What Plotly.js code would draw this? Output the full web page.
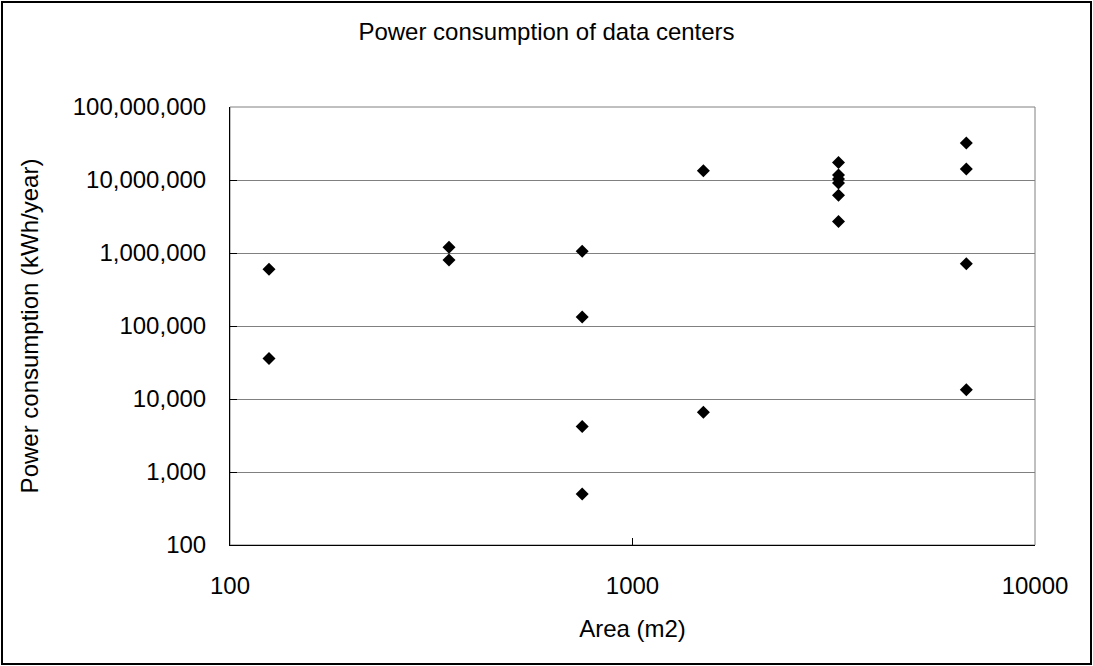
<!DOCTYPE html>
<html>
<head>
<meta charset="utf-8">
<script src="https://cdn.plot.ly/plotly-3.0.1.min.js"></script>
<style>
  html, body { margin: 0; padding: 0; background: #fff; }
  #wrap { position: relative; width: 1093px; height: 666px; }
  #chart { position: absolute; left: 0; top: 0; width: 1093px; height: 666px; }
  #frame { position: absolute; left: 1px; top: 1px; width: 1091px; height: 664px; box-sizing: border-box; border: 2px solid #000; pointer-events: none; }
</style>
</head>
<body>
<div id="wrap"><div id="chart"></div><div id="frame"></div></div>
<script>
// Area (m2) of each data center
const areas = [125, 125, 350, 350, 750, 750, 750, 750, 1500, 1500,
               3250, 3250, 3250, 3250, 3250, 3250, 6750, 6750, 6750, 6750];
// Power consumption (kWh/year)
const power = [600000, 36000, 1200000, 800000, 1060000, 133000, 4200, 500, 13400000, 6600,
               17300000, 11700000, 10300000, 9100000, 6200000, 2700000, 32000000, 14100000, 710000, 13400];

const xTickVals = [100, 1000, 10000];
const xTickText = ['100', '1000', '10000'];
const yTickVals = [100, 1000, 10000, 100000, 1000000, 10000000, 100000000];
const yTickText = ['100', '1,000', '10,000', '100,000', '1,000,000', '10,000,000', '100,000,000'];

const FONT = 'Liberation Sans, Arial, sans-serif';

const trace = {
  x: areas,
  y: power,
  type: 'scatter',
  mode: 'markers',
  marker: { symbol: 'diamond', color: '#000', size: 10, line: { width: 0 } },
  hoverinfo: 'x+y'
};

const layout = {
  width: 1093,
  height: 666,
  margin: { l: 230, r: 58, t: 107, b: 121 },
  paper_bgcolor: '#fff',
  plot_bgcolor: '#fff',
  showlegend: false,
  font: { family: FONT, size: 24, color: '#000' },
  title: {
    text: 'Power consumption of data centers',
    font: { family: FONT, size: 24, color: '#000' },
    x: 0.5, xref: 'container', xanchor: 'center',
    y: 1 - 32 / 666, yref: 'container', yanchor: 'middle'
  },
  xaxis: {
    type: 'log',
    range: [2, 4],
    tickvals: xTickVals,
    ticktext: xTickText,
    ticks: 'inside',
    ticklen: 7,
    tickcolor: '#000',
    showgrid: false,
    showline: true,
    linecolor: '#000',
    linewidth: 1,
    zeroline: false,
    ticklabelstandoff: 19,
    tickfont: { family: FONT, size: 24, color: '#000' },
    title: { text: 'Area (m2)', font: { family: FONT, size: 24, color: '#000' }, standoff: 22 }
  },
  yaxis: {
    type: 'log',
    range: [2, 8],
    tickvals: yTickVals,
    ticktext: yTickText,
    ticks: 'inside',
    ticklen: 7,
    tickcolor: '#000',
    showgrid: true,
    gridcolor: '#808080',
    gridwidth: 1,
    showline: true,
    linecolor: '#000',
    linewidth: 1,
    zeroline: false,
    ticklabelstandoff: 18,
    tickfont: { family: FONT, size: 24, color: '#000' },
    title: { text: 'Power consumption (kWh/year)', font: { family: FONT, size: 24, color: '#000' }, standoff: 27 }
  },
  shapes: [{
    type: 'rect', xref: 'paper', yref: 'paper', x0: 0, x1: 1, y0: 0, y1: 1,
    line: { color: '#808080', width: 1 }, fillcolor: 'rgba(0,0,0,0)', layer: 'below'
  }]
};

Plotly.newPlot('chart', [trace], layout, { displayModeBar: false, staticPlot: true });
</script>
</body>
</html>
